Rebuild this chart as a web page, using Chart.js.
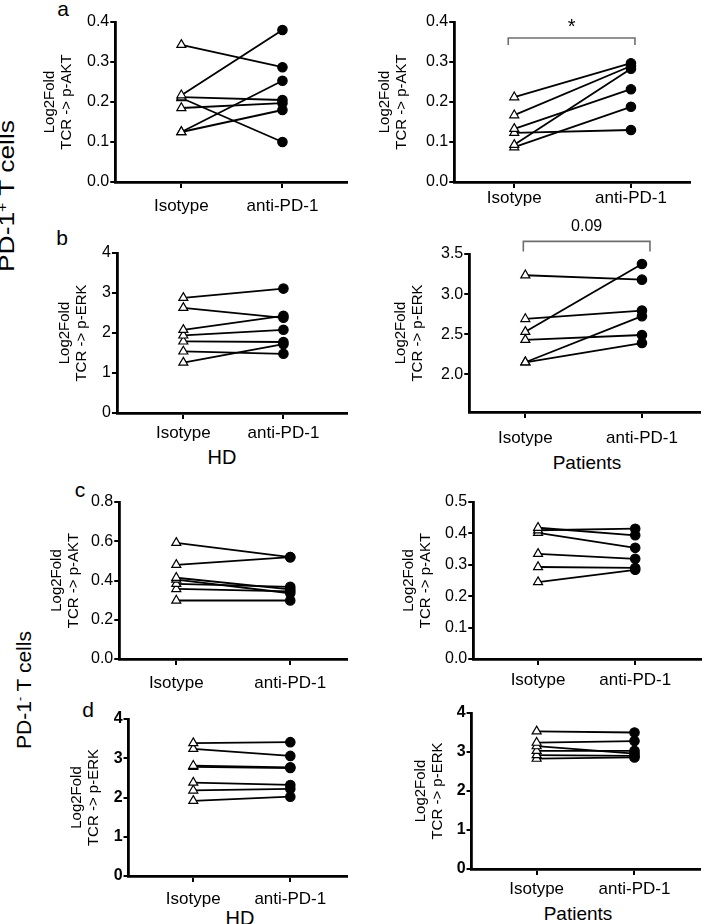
<!DOCTYPE html>
<html>
<head>
<meta charset="utf-8">
<script src="https://cdn.jsdelivr.net/npm/chart.js@4.4.1/dist/chart.umd.min.js"></script>
<style>
  html, body { margin: 0; padding: 0; background: #fff; }
  #fig {
    position: relative; width: 707px; height: 924px; overflow: hidden;
    font-family: "Liberation Sans", Arial, Helvetica, sans-serif; color: #000;
  }
  #fig canvas { position: absolute; }
  .txt { position: absolute; white-space: nowrap; line-height: 1; transform: translate(-50%, -50%); }
  .rot { transform: translate(-50%, -50%) rotate(-90deg); }
  .rot-wide { transform: translate(-50%, -50%) rotate(-90deg) scaleX(1.2); }
  .sup { font-size: 0.6em; vertical-align: 0.55em; }
</style>
</head>
<body>
<div id="fig">
  <div class="txt" style="left:63px;top:8px;font-size:21px">a</div>
  <div class="txt" style="left:62px;top:237px;font-size:21px">b</div>
  <div class="txt" style="left:80px;top:489px;font-size:21px">c</div>
  <div class="txt" style="left:88px;top:709px;font-size:21px">d</div>

  <div class="txt" style="left:222px;top:457px;font-size:20px">HD</div>
  <div class="txt" style="left:587px;top:462px;font-size:19px">Patients</div>
  <div class="txt" style="left:240px;top:918px;font-size:20px">HD</div>
  <div class="txt" style="left:578px;top:913px;font-size:19px">Patients</div>

  <div class="txt rot-wide" style="left:7px;top:196px;font-size:22px">PD-1<span class="sup">+</span> T cells</div>
  <div class="txt rot" style="left:23px;top:690px;font-size:21px">PD-1<span class="sup">-</span> T cells</div>
</div>

<script>
// ── categorias y datos ──────────────────────────────────────────
const groups = ["Isotype", "anti-PD-1"];

// a) PD-1+ , p-AKT
const aktPosHdIso  = [0.343, 0.217, 0.212, 0.210, 0.185, 0.125, 0.125];
const aktPosHdAnti = [0.287, 0.380, 0.205, 0.100, 0.197, 0.253, 0.180];
const aktPosPtIso  = [0.212, 0.167, 0.133, 0.123, 0.093, 0.087];
const aktPosPtAnti = [0.297, 0.290, 0.232, 0.130, 0.283, 0.188];

// b) PD-1+ , p-ERK
const erkPosHdIso  = [2.88, 2.63, 2.08, 1.94, 1.79, 1.54, 1.26];
const erkPosHdAnti = [3.11, 2.38, 2.43, 2.08, 1.775, 1.48, 1.72];
const erkPosPtIso  = [3.235, 2.69, 2.53, 2.43, 2.15, 2.15];
const erkPosPtAnti = [3.18, 2.795, 3.375, 2.49, 2.725, 2.39];

// c) PD-1- , p-AKT
const aktNegHdIso  = [0.592, 0.480, 0.414, 0.405, 0.383, 0.357, 0.298];
const aktNegHdAnti = [0.519, 0.519, 0.355, 0.335, 0.368, 0.345, 0.298];
const aktNegPtIso  = [0.418, 0.410, 0.402, 0.335, 0.293, 0.245];
const aktNegPtAnti = [0.394, 0.415, 0.354, 0.319, 0.290, 0.284];

// d) PD-1- , p-ERK
const erkNegHdIso  = [3.387, 3.24, 2.81, 2.78, 2.38, 2.18, 1.915];
const erkNegHdAnti = [3.41, 3.06, 2.77, 2.75, 2.32, 2.22, 2.02];
const erkNegPtIso  = [3.53, 3.24, 3.15, 3.03, 2.92, 2.83];
const erkNegPtAnti = [3.50, 3.28, 2.96, 3.03, 2.90, 2.86];

// ticks del eje y
const aktTicksA  = [0, 0.1, 0.2, 0.3, 0.4];
const erkTicksB1 = [0, 1, 2, 3, 4];
const erkTicksB2 = [2.0, 2.5, 3.0, 3.5];
const aktTicksC1 = [0, 0.2, 0.4, 0.6, 0.8];
const aktTicksC2 = [0, 0.1, 0.2, 0.3, 0.4, 0.5];
const erkTicksD  = [0, 1, 2, 3, 4];

// ── layout de cada panel (pixeles de la figura) ────────────────
const PANELS = [
  { iso: aktPosHdIso, anti: aktPosHdAnti, ticks: aktTicksA, yMin: 0, dec: 1, marker: "p-AKT",
    box: { axisX: 115, topY: 21.7, bottomY: 181.7, isoX: 183, antiX: 287, endX: 353, titleX: 50, lblOff: 23 } },
  { iso: aktPosPtIso, anti: aktPosPtAnti, ticks: aktTicksA, yMin: 0, dec: 1, marker: "p-AKT",
    box: { axisX: 454, topY: 21.7, bottomY: 181.7, isoX: 515.7, antiX: 635.7, endX: 696, titleX: 385, lblOff: 15 },
    bracket: { y: 0.36, drop: 7, dx0: -6, dx1: 4, text: "*", size: 20, dy: -11 } },
  { iso: erkPosHdIso, anti: erkPosHdAnti, ticks: erkTicksB1, yMin: 0, dec: 0, marker: "p-ERK",
    box: { axisX: 116.7, topY: 252.7, bottomY: 412.7, isoX: 185, antiX: 288, endX: 353, titleX: 65, lblOff: 19 } },
  { iso: erkPosPtIso, anti: erkPosPtAnti, ticks: erkTicksB2, yMin: 1.53, dec: 1, marker: "p-ERK",
    box: { axisX: 469, topY: 254.3, bottomY: 412.7, isoX: 526.7, antiX: 646.7, endX: 706, titleX: 401, lblOff: 25.5, padTop: 44 },
    bracket: { y: 3.657, drop: 10, dx0: -2, dx1: 8, text: "0.09", size: 16, dy: -15 } },
  { iso: aktNegHdIso, anti: aktNegHdAnti, ticks: aktTicksC1, yMin: 0, dec: 1, marker: "p-AKT",
    box: { axisX: 119, topY: 501.7, bottomY: 658.3, isoX: 177.7, antiX: 295, endX: 353, titleX: 57, lblOff: 23 } },
  { iso: aktNegPtIso, anti: aktNegPtAnti, ticks: aktTicksC2, yMin: 0, dec: 1, marker: "p-AKT",
    box: { axisX: 473, topY: 501.7, bottomY: 658.3, isoX: 539.7, antiX: 639.7, endX: 707, titleX: 409, lblOff: 20 } },
  { iso: erkNegHdIso, anti: erkNegHdAnti, ticks: erkTicksD, yMin: 0, dec: 0, marker: "p-ERK", bold: true,
    box: { axisX: 128.3, topY: 719.3, bottomY: 876, isoX: 195, antiX: 295, endX: 353, titleX: 77, lblOff: 22 } },
  { iso: erkNegPtIso, anti: erkNegPtAnti, ticks: erkTicksD, yMin: 0, dec: 0, marker: "p-ERK", bold: true,
    box: { axisX: 471.3, topY: 712.7, bottomY: 869, isoX: 538.3, antiX: 639, endX: 706, titleX: 421, lblOff: 19 } },
];

const FONT = '"Liberation Sans", Arial, Helvetica, sans-serif';
const TITLE_LH = 16.5;
const X_AXIS_H = 50;

// corchete de significancia (dibujado en unidades de datos)
const bracketPlugin = {
  id: "bracket",
  afterDraw(chart, args, o) {
    if (!o || o.y == null) return;
    const ctx = chart.ctx;
    const xs = chart.scales.x, ys = chart.scales.y;
    const x0 = xs.getPixelForValue(0) + o.dx0;
    const x1 = xs.getPixelForValue(1) + o.dx1;
    const y = ys.getPixelForValue(o.y);
    ctx.save();
    ctx.strokeStyle = "#6e6e6e";
    ctx.lineWidth = 1.6;
    ctx.beginPath();
    ctx.moveTo(x0, y + o.drop);
    ctx.lineTo(x0, y);
    ctx.lineTo(x1, y);
    ctx.lineTo(x1, y + o.drop);
    ctx.stroke();
    ctx.fillStyle = "#000";
    ctx.font = o.size + "px " + FONT;
    ctx.textAlign = "center";
    ctx.textBaseline = "middle";
    ctx.fillText(o.text, (x0 + x1) / 2, y + o.dy);
    ctx.restore();
  }
};

function makePanel(p) {
  const b = p.box;
  const padTop = b.padTop || 14;
  const left = b.titleX - TITLE_LH / 2;
  const top = b.topY - padTop;
  const width = Math.round(b.endX - left);
  const height = Math.round(b.bottomY + X_AXIS_H - top);
  const yAxisW = b.axisX - left;

  const cv = document.createElement("canvas");
  cv.width = width;
  cv.height = height;
  cv.style.left = left + "px";
  cv.style.top = top + "px";
  document.getElementById("fig").appendChild(cv);

  const u = b.antiX - b.isoX;
  const xMin = -(b.isoX - b.axisX) / u;
  const xMax = (b.endX - b.isoX) / u;

  const datasets = p.iso.map(function (v, i) {
    return {
      data: [{ x: 0, y: v }, { x: 1, y: p.anti[i] }],
      borderColor: "#000",
      borderWidth: 1.8,
      pointStyle: ["triangle", "circle"],
      pointRadius: [5.2, 4.7],
      pointBackgroundColor: ["#fff", "#000"],
      pointBorderColor: "#000",
      pointBorderWidth: 1.2,
      tension: 0,
      clip: false,
    };
  });

  new Chart(cv, {
    type: "line",
    data: { datasets: datasets },
    options: {
      responsive: false,
      animation: false,
      devicePixelRatio: 1,
      layout: { padding: { top: padTop, left: 0, right: 0, bottom: 0 } },
      plugins: {
        legend: { display: false },
        tooltip: { enabled: false },
        bracket: p.bracket || {},
      },
      scales: {
        x: {
          type: "linear",
          min: xMin,
          max: xMax,
          afterBuildTicks: function (s) { s.ticks = [{ value: 0 }, { value: 1 }]; },
          afterFit: function (s) { s.height = X_AXIS_H; },
          ticks: {
            callback: function (v) { return groups[v]; },
            font: { family: FONT, size: 17 },
            color: "#000",
            padding: b.lblOff - 15,
            maxRotation: 0,
            autoSkip: false,
          },
          grid: { drawOnChartArea: false, tickLength: 6, color: "#000", lineWidth: 2 },
          border: { color: "#000", width: 2.8 },
        },
        y: {
          min: p.yMin,
          max: p.ticks[p.ticks.length - 1],
          afterBuildTicks: function (s) { s.ticks = p.ticks.map(function (v) { return { value: v }; }); },
          afterFit: function (s) { s.width = yAxisW; },
          ticks: {
            callback: function (v) { return v.toFixed(p.dec); },
            font: { family: FONT, size: 16, weight: p.bold ? "bold" : "normal" },
            color: "#000",
            padding: 1,
            autoSkip: false,
          },
          grid: { drawOnChartArea: false, tickLength: 5, color: "#000", lineWidth: 2 },
          border: { color: "#000", width: 2.8 },
          title: {
            display: true,
            text: ["Log2Fold", "TCR -> " + p.marker],
            font: { family: FONT, size: 15, lineHeight: TITLE_LH + "px" },
            color: "#000",
            padding: 0,
          },
        },
      },
    },
    plugins: p.bracket ? [bracketPlugin] : [],
  });
}

PANELS.forEach(makePanel);
</script>
</body>
</html>
